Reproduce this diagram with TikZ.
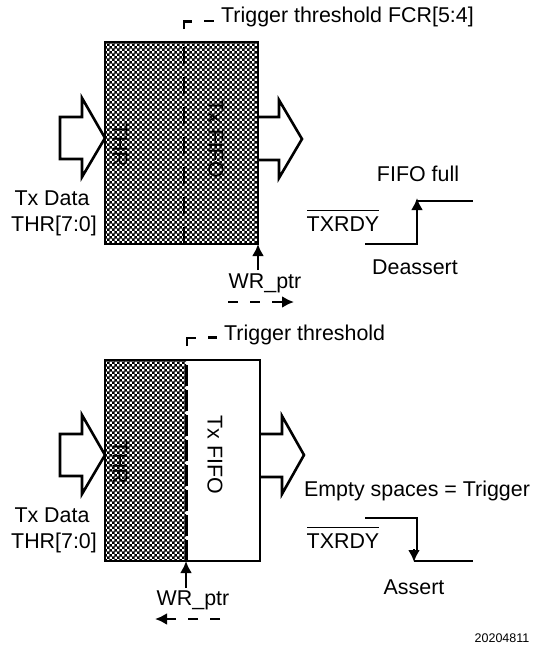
\documentclass[tikz,border=0pt]{standalone}
\usepackage{fontspec}
\setmainfont{Liberation Sans}
\usetikzlibrary{patterns,arrows.meta,positioning}
\pgfdeclarepatternformonly{fifocheck}{\pgfqpoint{0pt}{0pt}}{\pgfqpoint{5.4pt}{5.4pt}}{\pgfqpoint{5.4pt}{5.4pt}}{
  \pgfpathrectangle{\pgfqpoint{0pt}{0pt}}{\pgfqpoint{3pt}{3pt}}
  \pgfpathrectangle{\pgfqpoint{2.7pt}{2.7pt}}{\pgfqpoint{3pt}{3pt}}
  \pgfusepath{fill}
}
\tikzset{
  label/.style={inner sep=0pt,font=\fontsize{21.4}{25}\selectfont},
  fifobox/.style={draw,line width=2.7pt},
  checked/.style={pattern=fifocheck},
  busarrow/.style={draw,line width=2.6pt,fill=white,miter limit=6},
  edge/.style={line width=2.6pt},
  ptr/.style={line width=2.6pt,-{Latex[length=12pt,width=12pt]}},
}
\begin{document}
\begin{tikzpicture}[x=1pt,y=-1pt]
  \useasboundingbox (0,0) rectangle (533,645);

  % upper FIFO
  \draw[busarrow] (60,117) -- (82,117) -- (82,98) -- (105,138) -- (82,177) -- (82,159) -- (60,159) -- cycle;
  \draw[busarrow] (258,117) -- (279,117) -- (279,100) -- (302,139) -- (279,178) -- (279,160) -- (258,160);
  \fill[checked] (105,42) rectangle (258,244);
  \draw[fifobox] (105,42) rectangle (258,244);
  \node[label,rotate=-90] (thr1) at (120,145) {THR};
  \node[label,rotate=-90] (fifo1) at (216,139) {Tx FIFO};
  \coordinate (cut1) at (184,244);
  \coordinate (top1) at (184,42);
  \draw[edge,dash pattern=on 17pt off 13pt] (cut1) -- (top1);
  \node[label,anchor=west] (trig1) at (221,17) {Trigger threshold FCR[5:4]};
  \draw[edge] (184,29) -- (184,21.5) -- (192,21.5);
  \draw[edge] (204,21) -- (214,21);
  \node[label] (data1) at (52,198) {Tx Data};
  \node[label] (reg1) at (54,226) {THR[7:0]};
  \node[label] (wr1) at (265,283) {WR\_ptr};
  \coordinate (foot1) at (258,270);
  \draw[ptr] (foot1) -- (258,244);
  \coordinate (wrl1) at (228,302);
  \draw[ptr,dash pattern=on 10pt off 12pt] (wrl1) -- (294,302);

  % upper waveform
  \node[label] (full) at (418,174) {FIFO full};
  \node[label] (rdy1) at (343,224) {TXRDY};
  \draw[line width=1.8pt] (307,210.5) -- (379,210.5);
  \coordinate (low1) at (365,244);
  \coordinate (high1) at (473,201);
  \draw[edge] (low1) -- (417,244) -- (417,201) -- (high1);
  \draw[ptr] (417,225) -- (417,198);
  \node[label] (deassert) at (415,267) {Deassert};

  % lower FIFO
  \draw[busarrow] (60,434) -- (82,434) -- (82,415) -- (105,455) -- (82,494) -- (82,476) -- (60,476) -- cycle;
  \draw[busarrow] (260,434) -- (282,434) -- (282,416) -- (304,455) -- (282,494) -- (282,477) -- (260,477);
  \fill[white] (186,360) rectangle (260,561);
  \fill[checked] (105,360) rectangle (186,561);
  \draw[fifobox] (105,360) rectangle (260,561);
  \node[label,rotate=-90] (thr2) at (120,462) {THR};
  \node[label,rotate=-90] (fifo2) at (215,455) {Tx FIFO};
  \coordinate (cut2) at (186,561);
  \coordinate (top2) at (186,360);
  \draw[line width=3pt,dash pattern=on 21pt off 4pt] (cut2) -- (top2);
  \node[label,anchor=west] (trig2) at (224,335) {Trigger threshold};
  \draw[edge] (187,346) -- (187,338) -- (196,338);
  \draw[edge] (208,337.5) -- (217,337.5);
  \node[label] (data2) at (52,515) {Tx Data};
  \node[label] (reg2) at (54,543) {THR[7:0]};
  \node[label] (wr2) at (193,600) {WR\_ptr};
  \coordinate (foot2) at (186,588);
  \draw[ptr] (foot2) -- (186,561);
  \coordinate (wrl2) at (220,619);
  \draw[ptr,dash pattern=on 10pt off 12pt] (wrl2) -- (155,619);

  % lower waveform
  \node[label] (empty) at (417,491) {Empty spaces = Trigger};
  \node[label] (rdy2) at (343,541) {TXRDY};
  \draw[line width=1.8pt] (307,527.5) -- (379,527.5);
  \coordinate (high2) at (365,518);
  \coordinate (low2) at (473,561);
  \draw[edge] (high2) -- (417,518) -- (417,550);
  \draw[edge] (414,561) -- (low2);
  \draw[ptr] (414,549) -- (414,562);
  \node[label] (assert) at (414,587) {Assert};

  \node[inner sep=0pt,font=\fontsize{12.5}{15}\selectfont] (stamp) at (502,638) {20204811};
\end{tikzpicture}
\end{document}
